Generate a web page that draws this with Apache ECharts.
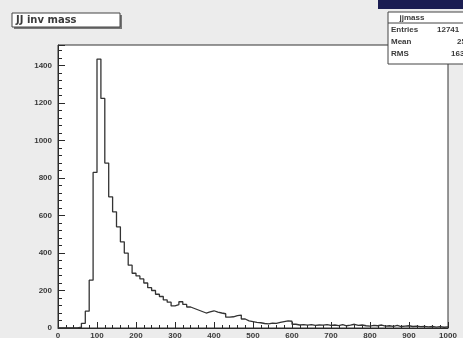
<!DOCTYPE html>
<html>
<head>
<meta charset="utf-8">
<script src="https://cdn.jsdelivr.net/npm/echarts@6/dist/echarts.min.js"></script>
<style>
html,body{margin:0;padding:0;background:#ececec;}
#c{width:463px;height:338px;}
</style>
</head>
<body>
<div id="c"></div>
<script>
// Histogram "jjmass": 100 bins of width 10 from 0 to 1000
const binWidth = 10;
const counts = [
  0, 0, 0, 0, 0, 5, 25, 90, 255, 830,
  1435, 1225, 880, 700, 620, 540, 460, 400, 335, 292,
  278, 262, 240, 215, 200, 180, 168, 150, 138, 118,
  125, 140, 126, 112, 104, 96, 88, 80, 86, 92,
  85, 80, 76, 58, 60, 66, 69, 48, 38, 34,
  30, 28, 24, 22, 26, 25, 30, 34, 38, 36,
  20, 16, 18, 15, 18, 14, 16, 15, 18, 14,
  16, 13, 18, 12, 15, 20, 14, 16, 12, 10,
  14, 12, 16, 10, 12, 9, 14, 8, 10, 12,
  8, 10, 7, 9, 6, 8, 5, 7, 4, 6
];
const xTicks = [0, 100, 200, 300, 400, 500, 600, 700, 800, 900, 1000];
const yTicks = [0, 200, 400, 600, 800, 1000, 1200, 1400];
const titleText = 'JJ inv mass';
const statsName = 'jjmass';
const statsRows = [['Entries', '12741'], ['Mean', '251.3'], ['RMS', '163.2']];

const stepData = counts.map((v, i) => [i * binWidth, v]);
stepData.push([counts.length * binWidth, counts[counts.length - 1]]);

const chart = echarts.init(document.getElementById('c'), null, {renderer: 'canvas'});
const axisColor = '#2a2a2a';
const labelStyle = {color: '#3a3a3a', fontSize: 8, fontWeight: 'bold', fontFamily: 'Liberation Sans, Arial, sans-serif'};
const statFont = 'bold 8px "Liberation Sans", sans-serif';

chart.setOption({
  backgroundColor: '#ececec',
  animation: false,
  grid: {left: 58, right: 15, top: 45, bottom: 10, show: true, backgroundColor: '#ffffff',
         borderColor: '#333', borderWidth: 1, containLabel: false, outerBoundsMode: 'none'},
  xAxis: {
    type: 'value', min: 0, max: 1000, interval: 100,
    axisLine: {show: true, lineStyle: {color: axisColor, width: 1}},
    axisTick: {show: true, inside: true, length: 6, lineStyle: {color: axisColor}},
    minorTick: {show: true, splitNumber: 5, length: 3, lineStyle: {color: axisColor}},
    splitLine: {show: false},
    axisLabel: Object.assign({margin: 4, formatter: v => xTicks.includes(v) ? String(v) : ''}, labelStyle)
  },
  yAxis: {
    type: 'value', min: 0, max: 1510, interval: 200,
    axisLine: {show: true, lineStyle: {color: axisColor, width: 1}},
    axisTick: {show: true, inside: true, length: 7, lineStyle: {color: axisColor}},
    minorTick: {show: true, splitNumber: 5, length: 4, lineStyle: {color: axisColor}},
    splitLine: {show: false},
    axisLabel: Object.assign({margin: 6, showMaxLabel: false, formatter: v => yTicks.includes(v) ? String(v) : ''}, labelStyle)
  },
  series: [{
    type: 'line', step: 'end', data: stepData, showSymbol: false, symbol: 'none',
    lineStyle: {color: '#333', width: 1.3}, z: 3
  }],
  graphic: [
    {type: 'rect', shape: {x: 14, y: 15, width: 108, height: 14}, style: {fill: '#777'}},
    {type: 'rect', shape: {x: 12, y: 13, width: 108, height: 14}, style: {fill: '#ffffff', stroke: '#444', lineWidth: 1}},
    {type: 'text', x: 16, y: 20, style: {text: titleText, fill: '#3a3a3a', font: 'bold 10px "DejaVu Sans", sans-serif', textVerticalAlign: 'middle', textBaseline: 'middle'}},
    {type: 'rect', shape: {x: 378, y: 0, width: 90, height: 9}, style: {fill: '#1b1d52'}},
    {type: 'rect', shape: {x: 388, y: 12, width: 90, height: 52}, style: {fill: '#ffffff', stroke: '#444', lineWidth: 1}},
    {type: 'line', shape: {x1: 388, y1: 23, x2: 470, y2: 23}, style: {stroke: '#444', lineWidth: 1}},
    {type: 'text', x: 412, y: 17.5, style: {text: statsName, fill: '#3a3a3a', font: statFont, textAlign: 'center', textVerticalAlign: 'middle', textBaseline: 'middle'}},
    {type: 'text', x: 391, y: 30, style: {text: statsRows[0][0], fill: '#3a3a3a', font: statFont, textVerticalAlign: 'middle', textBaseline: 'middle'}},
    {type: 'text', x: 437, y: 30, style: {text: statsRows[0][1], fill: '#3a3a3a', font: statFont, textVerticalAlign: 'middle', textBaseline: 'middle'}},
    {type: 'text', x: 391, y: 42, style: {text: statsRows[1][0], fill: '#3a3a3a', font: statFont, textVerticalAlign: 'middle', textBaseline: 'middle'}},
    {type: 'text', x: 457, y: 42, style: {text: statsRows[1][1], fill: '#3a3a3a', font: statFont, textVerticalAlign: 'middle', textBaseline: 'middle'}},
    {type: 'text', x: 391, y: 54, style: {text: statsRows[2][0], fill: '#3a3a3a', font: statFont, textVerticalAlign: 'middle', textBaseline: 'middle'}},
    {type: 'text', x: 451, y: 54, style: {text: statsRows[2][1], fill: '#3a3a3a', font: statFont, textVerticalAlign: 'middle', textBaseline: 'middle'}}
  ]
});
</script>
</body>
</html>
